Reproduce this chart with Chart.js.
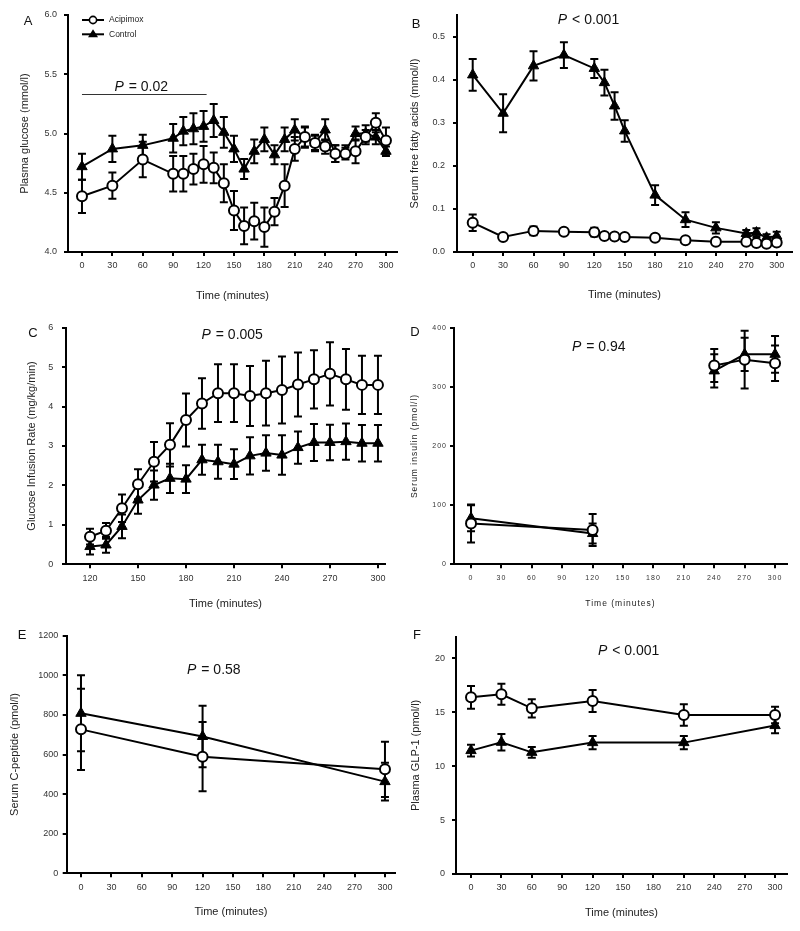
<!DOCTYPE html>
<html><head><meta charset="utf-8">
<script src="https://cdn.jsdelivr.net/npm/chart.js@4.4.0/dist/chart.umd.min.js"></script>
<style>
html,body{margin:0;padding:0;background:#fff;}
#wrap{position:relative;width:800px;height:931px;background:#fff;}
canvas{position:absolute;left:0;top:0;}
</style></head><body><div id="wrap">
<canvas id="cA" width="800" height="931"></canvas>
<canvas id="cB" width="800" height="931"></canvas>
<canvas id="cC" width="800" height="931"></canvas>
<canvas id="cD" width="800" height="931"></canvas>
<canvas id="cE" width="800" height="931"></canvas>
<canvas id="cF" width="800" height="931"></canvas>
</div>
<script>
// ---------------- DATA ----------------
const seriesNames = ['Acipimox', 'Control'];
const xTitle = 'Time (minutes)';
const timeTicks = ['0','30','60','90','120','150','180','210','240','270','300'];
const girTimeTicks = ['120','150','180','210','240','270','300'];

// A: Plasma glucose (mmol/l)
const glucoseTimes = [0,30,60,90,100,110,120,130,140,150,160,170,180,190,200,210,220,230,240,250,260,270,280,290,300];
const glucoseAcipimox = [4.47,4.56,4.78,4.66,4.66,4.70,4.74,4.71,4.58,4.35,4.22,4.26,4.21,4.34,4.56,4.87,4.97,4.92,4.89,4.83,4.83,4.85,4.97,5.09,4.94];
const glucoseAcipimoxSE = [0.14,0.11,0.15,0.15,0.15,0.13,0.155,0.13,0.16,0.165,0.155,0.155,0.165,0.115,0.18,0.10,0.08,0.06,0.06,0.07,0.05,0.10,0.06,0.08,0.11];
const glucoseControl = [4.72,4.87,4.90,4.96,5.02,5.04,5.06,5.11,5.01,4.87,4.70,4.85,4.95,4.82,4.95,5.03,4.97,4.92,5.03,4.83,4.85,5.00,5.00,4.97,4.85];
const glucoseControlSE = [0.11,0.11,0.09,0.12,0.12,0.13,0.13,0.14,0.13,0.11,0.085,0.10,0.10,0.08,0.10,0.09,0.09,0.07,0.09,0.07,0.05,0.06,0.07,0.06,0.04];
const glucoseTicks = ['4.0','4.5','5.0','5.5','6.0'];

// B: Serum free fatty acids (mmol/l)
const ffaTimes = [0,30,60,90,120,130,140,150,180,210,240,270,280,290,300];
const ffaAcipimox = [0.068,0.035,0.049,0.047,0.046,0.037,0.036,0.035,0.033,0.027,0.024,0.024,0.021,0.019,0.022];
const ffaAcipimoxSE = [0.019,0.005,0.010,0.006,0.010,0.004,0.004,0.004,0.005,0.004,0.003,0.003,0.004,0.003,0.004];
const ffaControl = [0.411,0.322,0.432,0.457,0.426,0.393,0.339,0.281,0.132,0.075,0.056,0.043,0.045,0.033,0.037];
const ffaControlSE = [0.037,0.044,0.034,0.030,0.022,0.030,0.032,0.025,0.023,0.017,0.013,0.008,0.010,0.008,0.010];
const ffaTicks = ['0.0','0.1','0.2','0.3','0.4','0.5'];

// C: Glucose Infusion Rate (mg/kg/min)
const girTimes = [120,130,140,150,160,170,180,190,200,210,220,230,240,250,260,270,280,290,300];
const girAcipimox = [0.70,0.85,1.42,2.03,2.60,3.03,3.66,4.08,4.34,4.34,4.27,4.34,4.42,4.56,4.69,4.83,4.69,4.55,4.55];
const girAcipimoxSE = [0.20,0.20,0.35,0.38,0.50,0.55,0.67,0.64,0.73,0.73,0.76,0.82,0.85,0.81,0.74,0.80,0.77,0.74,0.74];
const girControl = [0.45,0.49,0.96,1.63,2.01,2.18,2.16,2.65,2.60,2.54,2.75,2.82,2.77,2.96,3.09,3.09,3.11,3.07,3.07];
const girControlSE = [0.20,0.20,0.30,0.35,0.37,0.37,0.35,0.38,0.43,0.38,0.47,0.45,0.50,0.41,0.47,0.45,0.46,0.46,0.46];
const girTicks = ['0','1','2','3','4','5','6'];

// D: Serum insulin (pmol/l)
const insulinTimes = [0,120,240,270,300];
const insulinBreakAfter = [120];   // no line drawn between 120 and 240 min
const insulinAcipimox = [69,58,336,346,340];
const insulinAcipimoxSE = [32,27,28,49,30];
const insulinControl = [78,52,327,355,355];
const insulinControlSE = [22,17,28,28,31];
const insulinTicks = ['0','100','200','300','400'];

// E: Serum C-peptide (pmol/l)
const cpepTimes = [0,120,300];
const cpepAcipimox = [727,589,525];
const cpepAcipimoxSE = [205,175,140];
const cpepControl = [808,691,463];
const cpepControlSE = [192,155,95];
const cpepTicks = ['0','200','400','600','800','1000','1200'];

// F: Plasma GLP-1 (pmol/l)
const glpTimes = [0,30,60,120,210,300];
const glpAcipimox = [16.38,16.66,15.36,16.04,14.74,14.74];
const glpAcipimoxSE = [1.06,0.97,0.85,1.03,1.00,0.77];
const glpControl = [11.44,12.21,11.28,12.18,12.18,13.76];
const glpControlSE = [0.55,0.76,0.50,0.62,0.62,0.70];
const glpTicks = ['0','5','10','15','20'];

// ---------------- RENDERING ----------------
const FONT = "'Liberation Sans', Arial, Helvetica, sans-serif";
const W = 800, H = 931;

function pts(times, vals){ return times.map((t,i)=>({x:t, y:vals[i]})); }

const errorBarPlugin = {
  id: 'errorBars',
  beforeDatasetsDraw(chart) {
    const ctx = chart.ctx, xs = chart.scales.x, ys = chart.scales.y;
    ctx.save();
    ctx.strokeStyle = '#000'; ctx.lineWidth = 2; ctx.lineCap = 'butt';
    chart.data.datasets.forEach(ds => {
      if (!ds.errors) return;
      ds.data.forEach((p, i) => {
        const e = ds.errors[i];
        if (p.y == null || e == null) return;
        const px = xs.getPixelForValue(p.x);
        const top = ys.getPixelForValue(p.y + e), bot = ys.getPixelForValue(p.y - e);
        const w = 4;
        ctx.beginPath();
        ctx.moveTo(px, top); ctx.lineTo(px, bot);
        ctx.moveTo(px - w, top); ctx.lineTo(px + w, top);
        ctx.moveTo(px - w, bot); ctx.lineTo(px + w, bot);
        ctx.stroke();
      });
    });
    ctx.restore();
  }
};

function drawP(ctx, cx, cy, rest, size) {
  ctx.font = `italic ${size}px ${FONT}`;
  const w1 = ctx.measureText('P').width;
  ctx.font = `${size}px ${FONT}`;
  const w2 = ctx.measureText(rest).width;
  const x = cx - (w1 + w2) / 2;
  ctx.textBaseline = 'middle'; ctx.textAlign = 'left';
  ctx.font = `italic ${size}px ${FONT}`;
  ctx.fillText('P', x, cy);
  ctx.font = `${size}px ${FONT}`;
  ctx.fillText(rest, x + w1 + 1, cy);
}

const extrasPlugin = {
  id: 'extras',
  beforeDraw(chart, args, opts) {
    chart.ctx.letterSpacing = opts.spacing || '0px';
  },
  afterDraw(chart, args, opts) {
    const ctx = chart.ctx, xs = chart.scales.x, ys = chart.scales.y;
    ctx.save();
    ctx.letterSpacing = '0px';
    ctx.fillStyle = '#111';
    ctx.font = `13px ${FONT}`; ctx.textAlign = 'center'; ctx.textBaseline = 'middle';
    ctx.fillText(opts.letter.text, opts.letter.x, opts.letter.y);
    drawP(ctx, xs.getPixelForValue(opts.p.x), ys.getPixelForValue(opts.p.y), opts.p.rest, 14);
    if (opts.bar) {
      ctx.strokeStyle = '#333'; ctx.lineWidth = 1;
      const y = Math.round(ys.getPixelForValue(opts.bar.y)) + 0.5;
      ctx.beginPath();
      ctx.moveTo(xs.getPixelForValue(opts.bar.x0), y);
      ctx.lineTo(xs.getPixelForValue(opts.bar.x1), y);
      ctx.stroke();
    }
    if (opts.legend) {
      const L = opts.legend;
      for (let k = 0; k < 2; k++) {
        const y = L.y + k * L.dy;
        ctx.strokeStyle = '#000'; ctx.lineWidth = 2;
        ctx.beginPath(); ctx.moveTo(L.x, y); ctx.lineTo(L.x + 22, y); ctx.stroke();
        const mx = L.x + 11;
        if (k === 0) {
          ctx.fillStyle = '#fff'; ctx.lineWidth = 1.6;
          ctx.beginPath(); ctx.arc(mx, y, 3.6, 0, Math.PI * 2); ctx.fill(); ctx.stroke();
        } else {
          ctx.fillStyle = '#000';
          ctx.beginPath(); ctx.moveTo(mx, y - 5); ctx.lineTo(mx + 5, y + 3); ctx.lineTo(mx - 5, y + 3); ctx.closePath(); ctx.fill();
        }
        ctx.fillStyle = '#222'; ctx.font = `8.5px ${FONT}`; ctx.textAlign = 'left'; ctx.textBaseline = 'middle';
        ctx.fillText(seriesNames[k], L.x + 27, y);
      }
    }
    ctx.restore();
    chart.ctx.letterSpacing = '0px';
  }
};

function makeChart(id, p) {
  const lhT = p.titleSize * 1.2;
  const padLeft = p.yTitleX - 10;
  const yW = p.area.l - padLeft;
  const padBottom = H - (p.xTitleY + 10);
  const xH = (p.xTitleY + 10) - p.area.b;
  const xTickVals = p.xTicks.map(Number);
  const yTickVals = p.yTicks.map(Number);
  const breaks = p.breakAfter || [];
  const segment = { borderColor: c => (breaks.includes(c.p0.parsed.x) ? 'rgba(0,0,0,0)' : '#000') };
  const datasets = [
    { label: seriesNames[0], data: pts(p.times, p.a), errors: p.aSE,
      borderColor: '#000', borderWidth: 2, pointStyle: 'circle', pointRadius: 5,
      pointBorderWidth: 2, pointBackgroundColor: '#fff', pointBorderColor: '#000', tension: 0,
      segment },
    { label: seriesNames[1], data: pts(p.times, p.c), errors: p.cSE,
      borderColor: '#000', borderWidth: 2, pointStyle: 'triangle', pointRadius: 6,
      pointBorderWidth: 1, pointBackgroundColor: '#000', pointBorderColor: '#000', tension: 0,
      segment }
  ];
  const axisCommon = {
    border: { display: true, color: '#000', width: 2 },
    grid: { display: true, drawOnChartArea: false, drawTicks: true, tickLength: 4, color: '#000', lineWidth: 2 }
  };
  return new Chart(document.getElementById(id), {
    type: 'line',
    data: { datasets },
    plugins: [errorBarPlugin, extrasPlugin],
    options: {
      responsive: false, animation: false, devicePixelRatio: 1, events: [],
      layout: { padding: { left: padLeft, top: p.area.t, right: W - p.area.r, bottom: padBottom } },
      plugins: {
        legend: { display: false }, tooltip: { enabled: false },
        extras: { letter: p.letter, p: p.pText, bar: p.bar, legend: p.legend, spacing: p.spacing }
      },
      scales: {
        x: Object.assign({}, axisCommon, {
          type: 'linear', min: p.xMin, max: p.xMax,
          afterBuildTicks: s => { s.ticks = xTickVals.map(v => ({ value: v })); },
          afterFit: s => { s.height = xH; },
          ticks: { color: '#333', font: { family: FONT, size: p.tickSize }, padding: p.xTickPad, maxRotation: 0, autoSkip: false,
                   callback: (v, i) => p.xTicks[i] },
          title: { display: true, text: xTitle, color: '#222', font: { family: FONT, size: p.titleSize },
                   padding: { top: 0, bottom: 10 - lhT / 2 } }
        }),
        y: Object.assign({}, axisCommon, {
          type: 'linear', min: p.yMin, max: p.yMax,
          afterBuildTicks: s => { s.ticks = yTickVals.map(v => ({ value: v })); },
          afterFit: s => { s.width = yW; },
          ticks: { color: '#333', font: { family: FONT, size: p.tickSize }, padding: p.yTickPad, autoSkip: false,
                   callback: (v, i) => p.yTicks[i] },
          title: { display: true, text: p.yTitle, color: '#222', font: { family: FONT, size: p.titleSize },
                   padding: { top: 10 - lhT / 2, bottom: 0 } }
        })
      }
    }
  });
}

makeChart('cA', {
  area: { l: 68, t: 15, r: 397, b: 252 }, yTitleX: 25, xTitleY: 296,
  xMin: -13.8, xMax: 310.9, yMin: 4, yMax: 6, xTicks: timeTicks, yTicks: glucoseTicks,
  times: glucoseTimes, a: glucoseAcipimox, aSE: glucoseAcipimoxSE, c: glucoseControl, cSE: glucoseControlSE,
  yTitle: 'Plasma glucose (mmol/l)', titleSize: 11, tickSize: 9, xTickPad: 4.5, yTickPad: 7,
  letter: { text: 'A', x: 28, y: 21 }, pText: { x: 58, y: 5.39, rest: ' = 0.02' },
  bar: { x0: 0, x1: 123, y: 5.33 }, legend: { x: 82, y: 20, dy: 14.3 }
});
makeChart('cB', {
  area: { l: 457, t: 15, r: 792, b: 252 }, yTitleX: 415, xTitleY: 295,
  xMin: -15.5, xMax: 315.1, yMin: 0, yMax: 0.55, xTicks: timeTicks, yTicks: ffaTicks,
  times: ffaTimes, a: ffaAcipimox, aSE: ffaAcipimoxSE, c: ffaControl, cSE: ffaControlSE,
  yTitle: 'Serum free fatty acids (mmol/l)', titleSize: 11, tickSize: 9, xTickPad: 4.5, yTickPad: 8,
  letter: { text: 'B', x: 416, y: 24 }, pText: { x: 113.8, y: 0.539, rest: ' < 0.001' }
});
makeChart('cC', {
  area: { l: 66, t: 327.7, r: 385, b: 564.3 }, yTitleX: 32, xTitleY: 604,
  xMin: 105, xMax: 304.4, yMin: 0, yMax: 6, xTicks: girTimeTicks, yTicks: girTicks,
  times: girTimes, a: girAcipimox, aSE: girAcipimoxSE, c: girControl, cSE: girControlSE,
  yTitle: 'Glucose Infusion Rate (mg/kg/min)', titleSize: 11, tickSize: 9, xTickPad: 4.5, yTickPad: 8.7,
  letter: { text: 'C', x: 33, y: 333 }, pText: { x: 208.6, y: 5.8, rest: ' = 0.005' }
});
makeChart('cD', {
  area: { l: 454, t: 327.7, r: 787, b: 564.3 }, yTitleX: 415, xTitleY: 604,
  xMin: -16.8, xMax: 311.8, yMin: 0, yMax: 400, xTicks: timeTicks, yTicks: insulinTicks,
  times: insulinTimes, a: insulinAcipimox, aSE: insulinAcipimoxSE, c: insulinControl, cSE: insulinControlSE,
  breakAfter: insulinBreakAfter,
  yTitle: 'Serum insulin (pmol/l)', titleSize: 8.5, tickSize: 7, xTickPad: 5.5, yTickPad: 3, spacing: '1px',
  letter: { text: 'D', x: 415, y: 332 }, pText: { x: 125.6, y: 367, rest: ' = 0.94' }
});
makeChart('cE', {
  area: { l: 66.7, t: 635.7, r: 395, b: 873.3 }, yTitleX: 15, xTitleY: 912,
  xMin: -14.1, xMax: 309.9, yMin: 0, yMax: 1200, xTicks: timeTicks, yTicks: cpepTicks,
  times: cpepTimes, a: cpepAcipimox, aSE: cpepAcipimoxSE, c: cpepControl, cSE: cpepControlSE,
  yTitle: 'Serum C-peptide (pmol/l)', titleSize: 11, tickSize: 9, xTickPad: 4.5, yTickPad: 4.4,
  letter: { text: 'E', x: 22, y: 635 }, pText: { x: 130.6, y: 1027, rest: ' = 0.58' }
});
makeChart('cF', {
  area: { l: 456, t: 636.7, r: 787, b: 874 }, yTitleX: 416, xTitleY: 913,
  xMin: -14.8, xMax: 311.8, yMin: 0, yMax: 22, xTicks: timeTicks, yTicks: glpTicks,
  times: glpTimes, a: glpAcipimox, aSE: glpAcipimoxSE, c: glpControl, cSE: glpControlSE,
  yTitle: 'Plasma GLP-1 (pmol/l)', titleSize: 11, tickSize: 9, xTickPad: 4.5, yTickPad: 7,
  letter: { text: 'F', x: 417, y: 635 }, pText: { x: 155, y: 20.7, rest: ' < 0.001' }
});
</script>
</body></html>
